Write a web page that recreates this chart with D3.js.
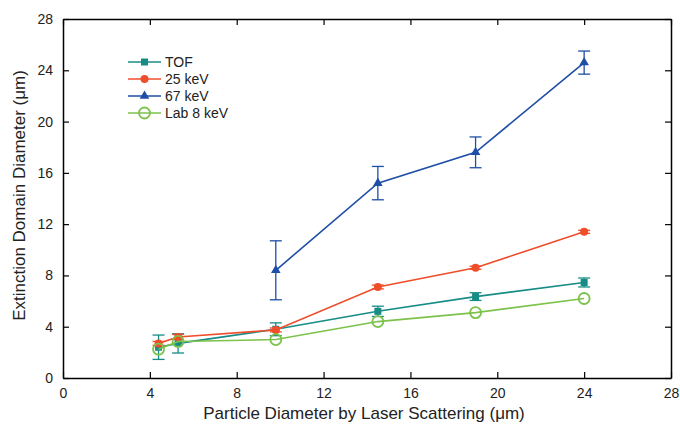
<!DOCTYPE html>
<html>
<head>
<meta charset="utf-8">
<script src="https://cdn.jsdelivr.net/npm/d3@7"></script>
<style>
  body { margin: 0; background: #fff; }
  text { font-family: "Liberation Sans", Arial, sans-serif; }
</style>
</head>
<body>
<div id="chart-area"></div>
<script>
// data
const xVals = [4.4, 5.3, 9.8, 14.5, 19, 24]
const tofY = [2.4, 2.7, 3.8, 5.2, 6.35, 7.45]
const tofErr = [0.95, 0.75, 0.5, 0.4, 0.3, 0.35]
const kev25Y = [2.7, 3.2, 3.75, 7.1, 8.6, 11.4]
const kev25Err = [0.15, 0.2, 0.15, 0.15, 0.12, 0.12]
const kev67X = [9.8, 14.5, 19, 24]
const kev67Y = [8.4, 15.2, 17.6, 24.6]
const kev67Err = [2.3, 1.3, 1.2, 0.9]
const lab8Y = [2.25, 2.85, 3.0, 4.4, 5.1, 6.2]
const xTicks = [0, 4, 8, 12, 16, 20, 24, 28]
const yTicks = [0, 4, 8, 12, 16, 20, 24, 28]

const W = 680, H = 428
const MARGIN = { LEFT: 63, RIGHT: 9, TOP: 19, BOTTOM: 50 }
const WIDTH = W - MARGIN.LEFT - MARGIN.RIGHT
const HEIGHT = H - MARGIN.TOP - MARGIN.BOTTOM

const svg = d3.select("#chart-area").append("svg")
	.attr("width", W)
	.attr("height", H)

const g = svg.append("g")
	.attr("transform", `translate(${MARGIN.LEFT}, ${MARGIN.TOP})`)

const x = d3.scaleLinear().domain([0, 28]).range([0, WIDTH])
const y = d3.scaleLinear().domain([0, 28]).range([HEIGHT, 0])

// axes, ticks pointing inward on all four sides
const tickLen = 6
g.append("g")
	.attr("transform", `translate(0, ${HEIGHT})`)
	.call(d3.axisBottom(x).tickValues(xTicks).tickSizeInner(-tickLen).tickSizeOuter(0).tickPadding(10))
g.append("g")
	.call(d3.axisTop(x).tickValues(xTicks).tickSizeInner(-tickLen).tickSizeOuter(0).tickFormat(""))
g.append("g")
	.call(d3.axisLeft(y).tickValues(yTicks).tickSizeInner(-tickLen).tickSizeOuter(0).tickPadding(10))
g.append("g")
	.attr("transform", `translate(${WIDTH}, 0)`)
	.call(d3.axisRight(y).tickValues(yTicks).tickSizeInner(-tickLen).tickSizeOuter(0).tickFormat(""))

g.selectAll(".domain").attr("stroke", "#000").attr("stroke-width", 1.5)
g.selectAll(".tick line").attr("stroke", "#000").attr("stroke-width", 1.2)
g.selectAll(".tick text").attr("font-size", "14px").attr("fill", "#222")
	.attr("font-family", "Liberation Sans, Arial, sans-serif")

// axis labels
svg.append("text")
	.attr("x", MARGIN.LEFT + WIDTH / 2 - 3)
	.attr("y", 419)
	.attr("font-size", "17px")
	.attr("text-anchor", "middle")
	.attr("fill", "#222")
	.text("Particle Diameter by Laser Scattering (\u03bcm)")
svg.append("text")
	.attr("transform", "rotate(-90)")
	.attr("x", -(MARGIN.TOP + HEIGHT / 2) + 3)
	.attr("y", 25)
	.attr("font-size", "17px")
	.attr("text-anchor", "middle")
	.attr("fill", "#222")
	.text("Extinction Domain Diameter (\u03bcm)")

const series = [
	{ name: "TOF", color: "#178c86", xs: xVals, ys: tofY, err: tofErr, marker: "square" },
	{ name: "25 keV", color: "#ef4e2b", xs: xVals, ys: kev25Y, err: kev25Err, marker: "circle" },
	{ name: "67 keV", color: "#1f4ea6", xs: kev67X, ys: kev67Y, err: kev67Err, marker: "triangle" },
	{ name: "Lab 8 keV", color: "#7cc24b", xs: xVals, ys: lab8Y, err: null, marker: "open" }
]

const line = d3.line()
	.x(d => x(d[0]))
	.y(d => y(d[1]))

function drawMarker(sel, type, color) {
	if (type === "square") {
		sel.append("rect").attr("x", -3.5).attr("y", -3.5).attr("width", 7).attr("height", 7).attr("fill", color)
	} else if (type === "circle") {
		sel.append("circle").attr("r", 4).attr("fill", color)
	} else if (type === "triangle") {
		sel.append("path").attr("d", d3.symbol(d3.symbolTriangle, 40)()).attr("fill", color)
	} else {
		sel.append("circle").attr("r", 5.5).attr("fill", "#fff").attr("fill-opacity", 0)
			.attr("stroke", color).attr("stroke-width", 1.8)
	}
}

series.forEach(s => {
	const pts = s.xs.map((xv, i) => [xv, s.ys[i], s.err ? s.err[i] : 0])
	const sg = g.append("g")

	sg.append("path")
		.attr("d", line(pts))
		.attr("fill", "none")
		.attr("stroke", s.color)
		.attr("stroke-width", 1.6)

	if (s.err) {
		const eb = sg.selectAll(".err").data(pts).enter().append("g")
			.attr("stroke", s.color).attr("stroke-width", 1.3)
		eb.append("line")
			.attr("x1", d => x(d[0])).attr("x2", d => x(d[0]))
			.attr("y1", d => y(d[1] - d[2])).attr("y2", d => y(d[1] + d[2]))
		eb.append("line")
			.attr("x1", d => x(d[0]) - 6).attr("x2", d => x(d[0]) + 6)
			.attr("y1", d => y(d[1] + d[2])).attr("y2", d => y(d[1] + d[2]))
		eb.append("line")
			.attr("x1", d => x(d[0]) - 6).attr("x2", d => x(d[0]) + 6)
			.attr("y1", d => y(d[1] - d[2])).attr("y2", d => y(d[1] - d[2]))
	}

	sg.selectAll(".pt").data(pts).enter().append("g")
		.attr("transform", d => `translate(${x(d[0])}, ${y(d[1])})`)
		.each(function () { drawMarker(d3.select(this), s.marker, s.color) })
})

// legend
const legend = svg.append("g").attr("transform", "translate(128, 62)")
series.forEach((s, i) => {
	const row = legend.append("g").attr("transform", `translate(0, ${i * 17})`)
	row.append("line").attr("x1", 0).attr("x2", 33).attr("y1", 0).attr("y2", 0)
		.attr("stroke", s.color).attr("stroke-width", 1.6)
	const m = row.append("g").attr("transform", "translate(16.5, 0)")
	drawMarker(m, s.marker, s.color)
	row.append("text")
		.attr("x", 37)
		.attr("y", 5)
		.attr("font-size", "14px")
		.attr("fill", "#222")
		.text(s.name)
})
</script>
</body>
</html>
